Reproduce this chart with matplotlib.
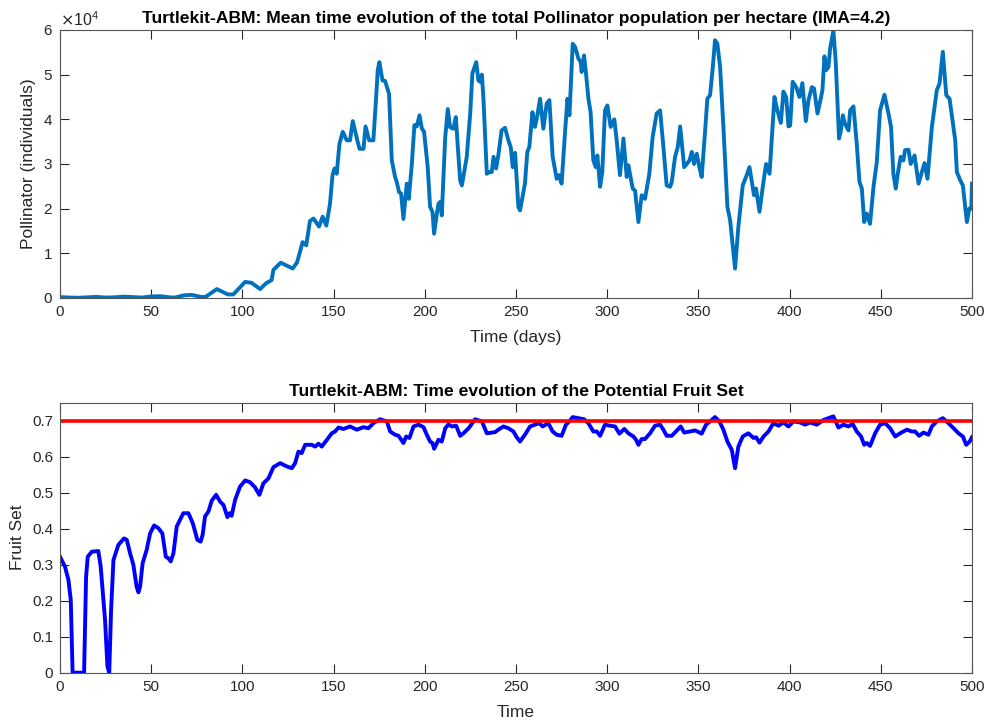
import numpy as np
import matplotlib
matplotlib.use('Agg')
import matplotlib.pyplot as plt
from matplotlib.ticker import ScalarFormatter, FormatStrFormatter

plt.rcParams['font.family'] = ['Liberation Sans', 'DejaVu Sans']

# pollinator population per hectare: (day, individuals)
poll_points = [
    (0, 200), (5, 100), (10, 50), (15, 150), (20, 250), (25, 100), (30, 150), (35, 300),
    (40, 200), (45, 100), (50, 350), (55, 400), (60, 150), (63, 100), (68, 600), (72, 700),
    (78, 200), (80, 300), (86, 2000), (92, 800), (95, 800), (101.5, 3600), (105, 3400),
    (109.7, 2000), (113, 3300), (116, 4000), (117, 6300), (121, 7900), (124, 7300),
    (127.6, 6600), (130, 8000), (131, 9500), (133, 12500), (135, 11800), (137, 17200),
    (139, 17800), (142, 16000), (144, 18200), (146, 16200), (148, 21000), (149.4, 27500),
    (150.5, 29000), (151.7, 27800), (153.2, 34500), (155, 37200), (157.2, 35300),
    (159, 35300), (160.5, 39600), (163, 35300), (164.2, 33400), (166.4, 33400),
    (167.5, 38400), (169.5, 35300), (171.8, 35300), (173.1, 43500), (174.2, 51000),
    (175.1, 52800), (176.8, 48700), (178.2, 48600), (180.4, 45700), (181.9, 30800),
    (183.7, 27100), (184.6, 26000), (185.9, 23700), (187, 23400), (188.3, 17700),
    (190.1, 25600), (191.2, 22200), (192.9, 30000), (194.3, 38700), (195.6, 38400),
    (197.1, 40900), (198.4, 37900), (199.6, 37200), (201.6, 29300), (202.9, 20400),
    (204.2, 19300), (205.1, 14400), (206.6, 18900), (207.5, 21100), (208.4, 21500),
    (209.3, 18500), (211.2, 36000), (212.6, 42300), (213.9, 38200), (215.7, 37900),
    (217, 40500), (218.1, 33800), (219.4, 26300), (220.3, 25200), (221.6, 28200),
    (223, 31600), (224.9, 41300), (226.1, 50300), (228.2, 52800), (229.4, 48700),
    (230.3, 48400), (231.3, 50000), (232.2, 44200), (234, 27800), (235.3, 28200),
    (236.7, 28200), (237.7, 31600), (239.1, 29000), (240.3, 31900), (242.1, 37500),
    (244, 38100), (245.8, 35300), (247.1, 33800), (248.2, 29300), (249.5, 32500),
    (251.3, 20400), (252.2, 19600), (254.9, 25600), (256.2, 32700), (257.3, 33800),
    (259, 41600), (260.4, 38300), (261.7, 40900), (263.2, 44600), (265, 37900),
    (266.8, 43500), (268.3, 44300), (270.1, 31600), (272.3, 26700), (273.6, 27500),
    (275, 25600), (276.9, 37200), (278.2, 44600), (279.3, 40900), (281.1, 56900),
    (282.4, 56200), (284.2, 53600), (285.5, 52800), (286, 50600), (287.3, 54300),
    (288.2, 51000), (289.7, 44600), (290.9, 41600), (292.4, 30800), (293.7, 29300),
    (294.6, 31900), (296.1, 24900), (297.3, 28200), (298.8, 42000), (300.1, 43100),
    (301.9, 38300), (303.9, 40000), (305.2, 35300), (307, 27500), (308.9, 35700),
    (310.7, 27100), (311.6, 29700), (314, 24500), (315.3, 24000), (317.1, 17000),
    (318.9, 23000), (320.7, 22200), (323.1, 27800), (324.9, 36000), (327.1, 41300),
    (329, 42000), (330.8, 33800), (332.6, 25200), (334.5, 24900), (335.4, 26000),
    (337.2, 31600), (338.7, 33800), (340, 38400), (342.2, 29300), (343.6, 30000),
    (345.1, 30800), (346.4, 32700), (347.6, 30000), (349.1, 32300), (350.5, 29300),
    (351.8, 27100), (353.7, 37500), (354.9, 44600), (356.4, 45400), (357.9, 51700),
    (359.1, 57700), (360.4, 56900), (361.9, 51700), (363.7, 38300), (365.9, 20400),
    (367.4, 17400), (370.1, 6600), (371.9, 15900), (374.3, 25200), (376.5, 27500),
    (378, 29300), (379.2, 26300), (380.5, 23000), (381.6, 24500), (383.5, 19300),
    (385.3, 24900), (387.1, 30000), (389, 27800), (391.7, 45000), (393.3, 42000),
    (395.2, 39200), (396.6, 46200), (398.1, 45000), (399.4, 38400), (400.3, 38600),
    (401.7, 48400), (403.6, 47200), (405.4, 45000), (407, 48100), (408.9, 39600),
    (410.3, 44200), (412.2, 47200), (413.4, 46900), (415.3, 41300), (416.7, 43900),
    (418, 46500), (419.1, 54100), (420, 51000), (421.3, 51700), (422.2, 55800),
    (424, 59900), (425.3, 52800), (427.1, 35700), (428, 37200), (429.2, 40900),
    (430.4, 39000), (432.3, 37500), (433.2, 42000), (435, 42900), (436.8, 34600),
    (438.3, 26000), (439.6, 24500), (440.9, 17000), (442.3, 18900), (444.1, 16600),
    (446, 24900), (447.8, 30400), (449.6, 42000), (452, 45500), (454.2, 41300),
    (455.6, 38300), (456.9, 27800), (458.2, 24500), (459.6, 28600), (460.9, 31600),
    (462.4, 30800), (463.3, 33100), (465.2, 33200), (466.4, 30000), (468.5, 31900),
    (470.7, 25600), (472.5, 28200), (474, 30200), (475.6, 26700), (478, 38300),
    (480.7, 46500), (482.2, 48000), (484, 55100), (485.9, 45400), (487.7, 44600),
    (490.8, 35300), (491.7, 28200), (493.6, 26300), (495, 25200), (497.2, 17000),
    (498.5, 20000), (499.6, 20000), (500, 25600),
]
t_poll = [p[0] for p in poll_points]
v_poll = [p[1] for p in poll_points]

# potential fruit set: (day, fruit set)
fruit_points = [
    (0, 0.322), (2.7, 0.295), (4.6, 0.258), (5.9, 0.202), (6.9, 0), (13.2, 0), (14.3, 0.267),
    (15.2, 0.322), (17.4, 0.336), (21, 0.338), (22.3, 0.295), (24.7, 0.146), (26, 0.017),
    (27, 0), (28, 0.174), (29.3, 0.313), (32, 0.355), (35.1, 0.373), (36.6, 0.369),
    (38.4, 0.332), (40.2, 0.3), (42, 0.239), (43, 0.223), (43.9, 0.239), (45.3, 0.304),
    (47.5, 0.341), (49.4, 0.387), (51.6, 0.409), (54, 0.401), (56.1, 0.387), (58, 0.322),
    (59.4, 0.318), (60.7, 0.309), (62.2, 0.332), (64, 0.406), (67.6, 0.443), (70.4, 0.443),
    (72.8, 0.415), (75.3, 0.369), (77.1, 0.364), (78.2, 0.383), (79.5, 0.434), (81.4, 0.448),
    (83.2, 0.478), (85.6, 0.494), (87.8, 0.475), (89.6, 0.466), (91.8, 0.432), (92.9, 0.443),
    (94.1, 0.436), (96, 0.48), (98.7, 0.517), (101.5, 0.534), (104.2, 0.529), (106.9, 0.515),
    (109.3, 0.494), (111.5, 0.526), (114.3, 0.54), (117, 0.571), (120.7, 0.582),
    (124.3, 0.573), (127.1, 0.568), (128.9, 0.582), (130.7, 0.614), (132.5, 0.61),
    (134.4, 0.633), (138, 0.633), (139.9, 0.628), (141.7, 0.636), (143.5, 0.628),
    (146.3, 0.647), (149, 0.665), (150.8, 0.67), (152.7, 0.681), (155.4, 0.677), (159, 0.684),
    (162.7, 0.675), (166.4, 0.682), (169.1, 0.679), (171.8, 0.693), (175.5, 0.704),
    (179.2, 0.698), (181, 0.67), (183.7, 0.661), (185.6, 0.658), (188.3, 0.638),
    (189.8, 0.656), (191.6, 0.652), (193.8, 0.684), (196.6, 0.689), (199.3, 0.682),
    (201.1, 0.661), (202.9, 0.642), (204.2, 0.638), (205.1, 0.622), (207.5, 0.647),
    (209.3, 0.642), (211.2, 0.679), (213, 0.69), (214.8, 0.684), (217.2, 0.686),
    (219.4, 0.658), (221.2, 0.665), (224, 0.679), (227.6, 0.704), (231.3, 0.698), (234, 0.665),
    (236.7, 0.667), (238.5, 0.668), (240.3, 0.675), (243.1, 0.684), (245.8, 0.679),
    (248.6, 0.67), (250.4, 0.654), (252.2, 0.642), (254.9, 0.661), (257.7, 0.684),
    (260.4, 0.689), (262.8, 0.693), (264.6, 0.684), (267.7, 0.693), (270.1, 0.67),
    (272.3, 0.661), (275, 0.658), (277.4, 0.689), (279.3, 0.698), (281.1, 0.71),
    (284.2, 0.707), (287.3, 0.704), (289.7, 0.693), (292.4, 0.67), (294.3, 0.67),
    (296.1, 0.658), (298.8, 0.689), (301.6, 0.686), (304.3, 0.684), (306.7, 0.664),
    (309.4, 0.677), (311.6, 0.665), (314.4, 0.656), (315.8, 0.647), (317.1, 0.633),
    (318.9, 0.649), (320.7, 0.649), (323.5, 0.665), (326.2, 0.686), (329, 0.689),
    (330.8, 0.675), (332.6, 0.658), (335.4, 0.658), (337.7, 0.67), (340.3, 0.684),
    (342.2, 0.667), (345.4, 0.67), (348.2, 0.673), (351.8, 0.664), (354.2, 0.689),
    (356.4, 0.698), (359.1, 0.71), (361.5, 0.698), (363.7, 0.675), (365.9, 0.642),
    (368.3, 0.619), (370.1, 0.568), (371.9, 0.628), (374.3, 0.656), (377.4, 0.665),
    (380.2, 0.652), (381.6, 0.654), (383.5, 0.639), (385.7, 0.656), (388.4, 0.67),
    (391.1, 0.693), (393.9, 0.686), (396.6, 0.695), (399.4, 0.684), (402.1, 0.698),
    (405.8, 0.695), (408.5, 0.689), (411.3, 0.695), (414.9, 0.689), (418.6, 0.702),
    (421.3, 0.707), (424, 0.712), (426.8, 0.681), (429.5, 0.689), (432.3, 0.684),
    (434.6, 0.691), (436.8, 0.67), (439.2, 0.656), (440.9, 0.633), (442.3, 0.638),
    (444.1, 0.63), (446.9, 0.665), (449.6, 0.689), (452.4, 0.693), (455.1, 0.679),
    (457.9, 0.656), (460.6, 0.665), (464.3, 0.675), (467, 0.67), (468.8, 0.67), (471, 0.658),
    (473.4, 0.667), (476.1, 0.661), (478, 0.684), (480.7, 0.698), (484, 0.707), (487.1, 0.693),
    (489.9, 0.679), (492.6, 0.665), (495, 0.656), (496.8, 0.633), (498.7, 0.642), (500, 0.654),
]
t_fruit = [p[0] for p in fruit_points]
v_fruit = [p[1] for p in fruit_points]

fruit_target = 0.7

axis_col = '#262626'

def style_axes(ax):
    ax.tick_params(direction='in', top=True, right=True, labelsize=11,
                   colors=axis_col, length=6.5, width=0.8, pad=5)
    for s in ax.spines.values():
        s.set_color('#555555')
        s.set_linewidth(0.8)

fig = plt.figure(figsize=(9.87, 7.24), dpi=100)

# top panel
ax1 = fig.add_axes([0.0608, 0.5884, 0.924, 0.3702])
ax1.plot(t_poll, v_poll, color='#0072BD', lw=2.8)
ax1.set_xlim(0, 500)
ax1.set_ylim(0, 60000)
ax1.set_xticks(np.arange(0, 501, 50))
ax1.set_yticks(np.arange(0, 60001, 10000))
fmt = ScalarFormatter(useMathText=True)
fmt.set_powerlimits((0, 0))
ax1.yaxis.set_major_formatter(fmt)
style_axes(ax1)
ax1.yaxis.get_offset_text().set_fontsize(11.5)
ax1.yaxis.get_offset_text().set_color(axis_col)
ax1.set_title('Turtlekit-ABM: Mean time evolution of the total Pollinator population per hectare (IMA=4.2)',
              fontsize=12.6, fontweight='bold', pad=5)
ax1.set_xlabel('Time (days)', fontsize=12.5, color=axis_col, labelpad=8)
ax1.set_ylabel('Pollinator (individuals)', fontsize=12.5, color=axis_col, labelpad=5)

# bottom panel
ax2 = fig.add_axes([0.0608, 0.0709, 0.924, 0.3729])
ax2.plot(t_fruit, v_fruit, color='blue', lw=2.8)
ax2.axhline(fruit_target, color='red', lw=2.6)
ax2.set_xlim(0, 500)
ax2.set_ylim(0, 0.75)
ax2.set_xticks(np.arange(0, 501, 50))
ax2.set_yticks(np.arange(0, 0.71, 0.1))
ax2.yaxis.set_major_formatter(FormatStrFormatter('%g'))
style_axes(ax2)
ax2.set_title('Turtlekit-ABM: Time evolution of the Potential Fruit Set',
              fontsize=12.6, fontweight='bold', pad=5)
ax2.set_xlabel('Time', fontsize=12.5, color=axis_col, labelpad=8)
ax2.set_ylabel('Fruit Set', fontsize=12.5, color=axis_col, labelpad=5)

fig.savefig('out.png', dpi=100)
